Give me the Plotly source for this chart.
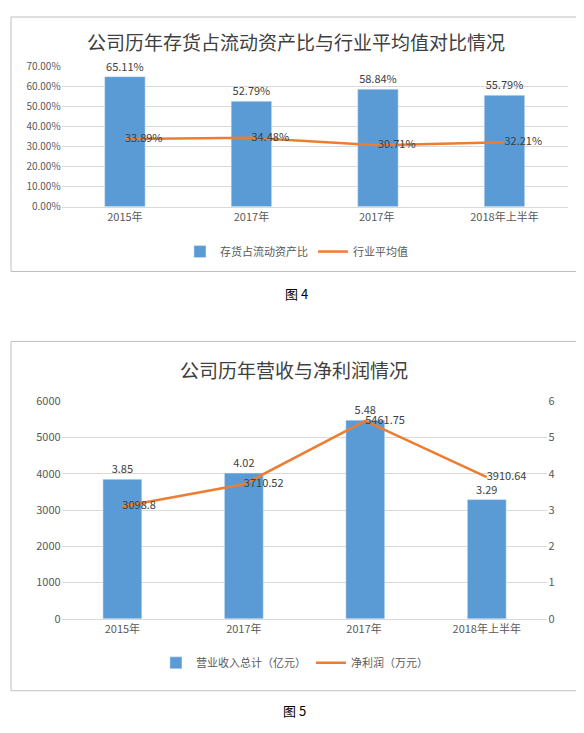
import plotly.graph_objects as go

cats = ["2015年", "2017年", "2017年 ", "2018年上半年"]
stock_ratio = [65.11, 52.79, 58.84, 55.79]
industry_avg = [33.89, 34.48, 30.71, 32.21]
revenue = [3850, 4020, 5480, 3290]
revenue_labels = ["3.85", "4.02", "5.48", "3.29"]
profit = [3.0988, 3.71052, 5.46175, 3.91064]
profit_labels = ["3098.8", "3710.52", "5461.75", "3910.64"]

BLUE = "#5B9BD5"
ORANGE = "#ED7D31"
F = "Noto Sans CJK SC"
H = 733.0
W = 584.0

def py(p):
    p = (p - 15) / 0.98
    return 1 - p / H

def px(p):
    p = (p - 7) / 0.988
    return p / W

fig = go.Figure()
fig.add_trace(go.Bar(x=cats, y=stock_ratio, name="存货占流动资产比", marker_color=BLUE, width=0.32,
                     text=[f"{v:.2f}%" for v in stock_ratio], textposition="outside",
                     textfont=dict(size=11, color="#404040"), cliponaxis=False,
                     xaxis="x", yaxis="y", legend="legend"))
fig.add_trace(go.Scatter(x=cats, y=industry_avg, name="行业平均值", mode="lines+text",
                         line=dict(color=ORANGE, width=2.5),
                         text=[f"{v:.2f}%" for v in industry_avg], textposition="middle right",
                         textfont=dict(size=11, color="#404040"),
                         xaxis="x", yaxis="y", legend="legend"))
fig.add_trace(go.Bar(x=cats, y=revenue, name="营业收入总计（亿元）", marker_color=BLUE, width=0.32,
                     text=revenue_labels, textposition="outside",
                     textfont=dict(size=11, color="#404040"), cliponaxis=False,
                     xaxis="x2", yaxis="y2", legend="legend2"))
fig.add_trace(go.Scatter(x=cats, y=profit, name="净利润（万元）", mode="lines+text",
                         line=dict(color=ORANGE, width=2.5),
                         text=profit_labels, textposition="middle right",
                         textfont=dict(size=11, color="#404040"),
                         xaxis="x2", yaxis="y3", legend="legend2"))

fig.update_layout(
    width=584, height=733, margin=dict(l=0, r=0, t=0, b=0),
    paper_bgcolor="white", plot_bgcolor="white",
    font=dict(family=F, size=11, color="#595959"),
    barmode="overlay",
    xaxis=dict(domain=[px(60), px(560)], anchor="y", showline=True, linecolor="#d9d9d9", tickfont=dict(size=11)),
    yaxis=dict(domain=[py(205), py(65)], anchor="x", range=[0, 70],
               tickvals=[0, 10, 20, 30, 40, 50, 60, 70],
               ticktext=[f"{v:.2f}%" for v in [0, 10, 20, 30, 40, 50, 60, 70]],
               gridcolor="#d9d9d9", zeroline=False, tickfont=dict(size=10)),
    xaxis2=dict(domain=[px(60), px(540)], anchor="y2", showline=True, linecolor="#d9d9d9", tickfont=dict(size=11)),
    yaxis2=dict(domain=[py(618), py(400)], anchor="x2", range=[0, 6000], dtick=1000,
                gridcolor="#d9d9d9", zeroline=False, tickfont=dict(size=11)),
    yaxis3=dict(overlaying="y2", side="right", anchor="x2", range=[0, 6], dtick=1,
                showgrid=False, zeroline=False, tickfont=dict(size=11)),
    legend=dict(orientation="h", x=px(292), xanchor="center", y=py(250), yanchor="middle",
                font=dict(size=11)),
    legend2=dict(orientation="h", x=px(290), xanchor="center", y=py(662), yanchor="middle",
                 font=dict(size=11)),
    shapes=[
        dict(type="rect", xref="paper", yref="paper", x0=px(10), x1=px(575), y0=py(270), y1=py(15),
             line=dict(color="#bfbfbf", width=1)),
        dict(type="rect", xref="paper", yref="paper", x0=px(10), x1=px(570), y0=py(690), y1=py(340),
             line=dict(color="#bfbfbf", width=1)),
    ],
    annotations=[
        dict(text="公司历年存货占流动资产比与行业平均值对比情况", xref="paper", yref="paper",
             x=px(292), y=py(40), yanchor="middle", showarrow=False, font=dict(size=19, color="#404040")),
        dict(text="公司历年营收与净利润情况", xref="paper", yref="paper",
             x=px(290), y=py(368), yanchor="middle", showarrow=False, font=dict(size=19, color="#404040")),
        dict(text="图 4", xref="paper", yref="paper", x=px(292), y=py(292), yanchor="middle", showarrow=False,
             font=dict(size=13, color="#000000")),
        dict(text="图 5", xref="paper", yref="paper", x=px(290), y=py(710), yanchor="middle", showarrow=False,
             font=dict(size=13, color="#000000")),
    ],
)
fig.write_html("out.html")
